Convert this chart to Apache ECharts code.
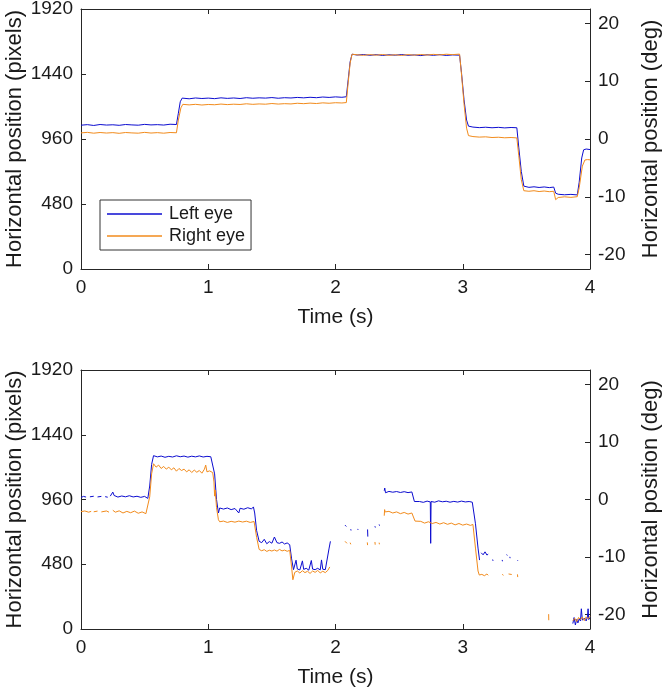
<!DOCTYPE html>
<html>
<head>
<meta charset="utf-8">
<script src="https://cdn.jsdelivr.net/npm/echarts@6/dist/echarts.min.js"></script>
<style>html,body{margin:0;padding:0;background:#fff}#c{width:666px;height:696px}</style>
</head>
<body>
<div id="c"></div>
<script>
// ---------- data ----------
const xTicks = [0, 1, 2, 3, 4];
const pixelTicks = [0, 480, 960, 1440, 1920];
const degTicks = [-20, -10, 0, 10, 20];
const seriesNames = ['Left eye', 'Right eye'];

// Top panel: [time (s), horizontal position (pixels)]
const topLeftEye = [
[0,1062],[0.05,1066],[0.1,1060],[0.15,1067],[0.2,1063],[0.25,1065],[0.3,1061],[0.35,1067],[0.4,1064],[0.45,1062],[0.5,1068],[0.55,1064],[0.6,1066],[0.65,1063],[0.7,1069],[0.75,1067],
[0.765,1150],[0.78,1235],[0.795,1262],[0.85,1257],[0.9,1263],[0.95,1259],[1.0,1262],[1.05,1258],[1.1,1264],[1.15,1260],[1.2,1263],[1.25,1259],[1.3,1265],[1.35,1261],[1.4,1264],[1.45,1262],[1.5,1266],[1.55,1261],[1.6,1265],[1.65,1263],[1.7,1267],[1.75,1264],[1.8,1268],[1.85,1265],[1.9,1270],[1.95,1267],[2.0,1271],[2.05,1268],[2.085,1272],
[2.1,1400],[2.115,1530],[2.13,1586],[2.17,1580],[2.22,1584],[2.27,1578],[2.32,1583],[2.37,1577],[2.42,1582],[2.47,1579],[2.52,1584],[2.57,1578],[2.62,1581],[2.67,1576],[2.72,1582],[2.77,1578],[2.82,1583],[2.87,1577],[2.92,1581],[2.975,1579],
[2.99,1450],[3.01,1250],[3.03,1100],[3.045,1055],[3.08,1048],[3.13,1044],[3.18,1047],[3.23,1043],[3.28,1046],[3.33,1042],[3.38,1045],[3.425,1043],
[3.44,900],[3.46,720],[3.48,612],[3.52,603],[3.56,607],[3.6,602],[3.64,606],[3.68,601],[3.715,605],
[3.73,560],[3.75,552],[3.8,548],[3.85,551],[3.9,547],[3.915,640],[3.935,820],[3.95,880],[3.97,886],[4.0,882]
];
const topRightEye = [
[0,1005],[0.05,1009],[0.1,1003],[0.15,1008],[0.2,1004],[0.25,1007],[0.3,1002],[0.35,1008],[0.4,1005],[0.45,1003],[0.5,1009],[0.55,1004],[0.6,1007],[0.65,1003],[0.7,1008],[0.75,1006],
[0.765,1100],[0.785,1190],[0.8,1216],[0.85,1212],[0.9,1216],[0.95,1211],[1.0,1215],[1.05,1213],[1.1,1218],[1.15,1214],[1.2,1217],[1.25,1215],[1.3,1220],[1.35,1216],[1.4,1219],[1.45,1217],[1.5,1222],[1.55,1218],[1.6,1221],[1.65,1219],[1.7,1224],[1.75,1221],[1.8,1225],[1.85,1222],[1.9,1227],[1.95,1224],[2.0,1228],[2.05,1226],[2.085,1229],
[2.1,1380],[2.115,1520],[2.13,1586],[2.17,1582],[2.22,1578],[2.27,1583],[2.32,1579],[2.37,1584],[2.42,1578],[2.47,1582],[2.52,1577],[2.57,1583],[2.62,1579],[2.67,1584],[2.72,1580],[2.77,1585],[2.82,1581],[2.87,1586],[2.92,1583],[2.975,1587],
[2.99,1440],[3.01,1220],[3.03,1040],[3.045,985],[3.08,978],[3.13,974],[3.18,976],[3.23,971],[3.28,973],[3.33,969],[3.38,971],[3.425,968],
[3.44,840],[3.46,660],[3.48,578],[3.52,574],[3.56,578],[3.6,572],[3.64,576],[3.68,571],[3.715,574],
[3.73,512],[3.75,528],[3.8,533],[3.85,529],[3.9,534],[3.915,600],[3.94,760],[3.96,805],[3.98,808],[4.0,806]
];

// Bottom panel (null = lost samples)
const bottomLeftEye = [
[0,975],[0.02,983],[0.04,978],[0.05,null],
[0.07,980],[0.1,984],[0.11,null],
[0.13,979],[0.16,983],[0.165,null],
[0.19,981],[0.21,977],[0.215,null],
[0.23,985],[0.25,1015],[0.26,990],[0.29,978],[0.32,986],[0.35,980],[0.38,988],[0.41,979],[0.44,984],[0.47,976],[0.5,983],[0.525,968],
[0.54,1060],[0.555,1220],[0.57,1285],[0.6,1276],[0.63,1282],[0.66,1273],[0.69,1280],[0.72,1275],[0.75,1284],[0.78,1277],[0.81,1282],[0.84,1274],[0.87,1281],[0.9,1276],[0.93,1283],[0.96,1275],[0.99,1280],[1.02,1277],[1.035,1279],
[1.05,1150],[1.065,960],[1.08,860],[1.09,897],[1.12,889],[1.15,897],[1.18,885],[1.21,893],[1.24,860],[1.25,895],[1.28,888],[1.31,899],[1.34,890],[1.355,905],[1.365,860],
[1.38,730],[1.40,650],[1.42,640],[1.44,665],[1.46,632],[1.48,648],[1.5,636],[1.52,682],[1.54,640],[1.56,635],[1.58,645],[1.6,630],[1.62,638],[1.64,625],
[1.655,520],[1.67,440],[1.68,452],[1.69,510],[1.70,445],[1.72,438],[1.74,505],[1.75,442],[1.77,450],[1.79,436],[1.81,508],[1.82,444],[1.84,440],[1.86,450],[1.88,438],[1.89,512],[1.90,443],[1.92,440],[1.935,452],[1.95,600],[1.96,650],[1.962,null],
[2.075,770],[2.085,760],[2.09,null],
[2.12,740],[2.122,730],[2.125,null],
[2.175,742],[2.177,735],[2.18,null],
[2.252,738],[2.254,685],[2.256,null],
[2.31,762],[2.313,752],[2.315,null],
[2.343,775],[2.346,766],[2.35,null],
[2.383,1025],[2.387,1045],[2.393,1010],[2.42,1020],[2.45,1014],[2.48,1019],[2.51,1012],[2.54,1018],[2.57,1011],[2.60,1016],[2.607,1010],
[2.62,945],[2.635,935],[2.66,945],[2.69,939],[2.72,948],[2.745,942],[2.748,635],[2.751,945],[2.78,940],[2.81,950],[2.84,943],[2.87,947],[2.9,940],[2.93,946],[2.96,941],[2.99,948],[3.02,942],[3.05,945],[3.075,940],
[3.1,780],[3.12,600],[3.132,511],[3.135,null],
[3.145,565],[3.16,550],[3.175,572],[3.19,548],[3.2,555],[3.205,null],
[3.235,515],[3.238,505],[3.24,null],
[3.31,512],[3.312,502],[3.315,null],
[3.345,552],[3.35,545],[3.355,null],
[3.37,535],[3.372,525],[3.375,null],
[3.43,510],[3.434,505],[3.44,null],
[3.865,40],[3.875,85],[3.885,30],[3.895,70],[3.905,45],[3.915,75],[3.925,60],[3.932,150],[3.94,65],[3.955,80],[3.97,60],[3.98,90],[3.985,150],[3.99,70],[4.0,85]
];
const bottomRightEye = [
[0,870],[0.03,875],[0.06,866],[0.08,872],[0.085,null],
[0.1,869],[0.13,874],[0.14,null],
[0.16,868],[0.2,875],[0.22,866],[0.225,null],
[0.25,880],[0.27,866],[0.3,876],[0.33,860],[0.36,872],[0.39,862],[0.42,874],[0.45,858],[0.48,868],[0.51,855],[0.525,865],
[0.54,980],[0.555,1150],[0.57,1225],[0.59,1200],[0.61,1215],[0.63,1190],[0.65,1205],[0.67,1185],[0.69,1200],[0.71,1180],[0.73,1195],[0.75,1170],[0.77,1190],[0.79,1175],[0.81,1185],[0.83,1165],[0.85,1180],[0.87,1160],[0.89,1178],[0.91,1162],[0.93,1175],[0.95,1155],[0.97,1185],[0.98,1215],[0.99,1165],[1.01,1172],[1.035,1160],
[1.045,1090],[1.05,985],[1.055,1030],[1.065,900],[1.08,810],[1.09,795],[1.12,800],[1.15,790],[1.18,798],[1.21,792],[1.24,800],[1.27,793],[1.3,799],[1.33,790],[1.36,797],
[1.38,680],[1.40,590],[1.42,580],[1.44,588],[1.46,575],[1.48,584],[1.5,578],[1.52,586],[1.54,577],[1.56,590],[1.58,579],[1.6,585],[1.62,576],[1.64,583],
[1.655,460],[1.665,365],[1.68,420],[1.70,430],[1.72,415],[1.74,432],[1.76,418],[1.78,428],[1.8,412],[1.82,430],[1.84,420],[1.86,434],[1.88,416],[1.9,428],[1.92,418],[1.94,435],[1.955,460],[1.957,null],
[2.075,650],[2.09,635],[2.1,null],
[2.115,640],[2.12,628],[2.125,null],
[2.25,642],[2.252,622],[2.255,null],
[2.31,645],[2.312,625],[2.315,null],
[2.343,640],[2.345,628],[2.348,null],
[2.383,840],[2.386,885],[2.39,868],[2.42,872],[2.45,860],[2.48,868],[2.51,855],[2.54,864],[2.57,852],[2.6,860],[2.607,848],
[2.625,800],[2.64,790],[2.67,798],[2.7,785],[2.73,795],[2.76,782],[2.79,790],[2.82,778],[2.85,788],[2.88,776],[2.91,785],[2.94,772],[2.97,782],[3.0,770],[3.03,778],[3.06,768],[3.08,775],
[3.1,600],[3.12,430],[3.13,400],[3.15,405],[3.17,395],[3.19,408],[3.2,398],[3.205,null],
[3.31,405],[3.32,398],[3.33,null],
[3.36,408],[3.37,400],[3.385,404],[3.39,null],
[3.43,405],[3.432,385],[3.435,null],
[3.675,110],[3.676,65],[3.678,null],
[3.865,60],[3.88,80],[3.895,55],[3.91,85],[3.925,70],[3.94,88],[3.955,62],[3.97,90],[3.985,75],[4.0,95]
];

// ---------- chart ----------
const FONT = 'Liberation Sans, Arial, Helvetica, sans-serif';
const TXT = '#1a1a1a';
const AX = '#262626';
const BLUE = '#0c0cd0';
const ORANGE = '#f28b1c';
const PX_PER_DEG = 960 / 22.5;
const DEG_MAX = 1920 / 2 / PX_PER_DEG;

const grids = [
  {left: 81, top: 9, width: 509, height: 260, outerBoundsMode: 'none', containLabel: false},
  {left: 81, top: 370, width: 509, height: 259, outerBoundsMode: 'none', containLabel: false}
];

function xAxes(g) {
  return [
    {gridIndex: g, type: 'value', position: 'bottom', min: xTicks[0], max: xTicks[xTicks.length-1], interval: 1,
     name: 'Time (s)', nameLocation: 'middle', nameGap: 38, nameMoveOverlap: false,
     nameTextStyle: {fontFamily: FONT, fontSize: 21, color: TXT},
     axisLine: {show: true, onZero: false, lineStyle: {color: AX, width: 1}},
     axisTick: {show: true, inside: true, length: 5, lineStyle: {color: AX}},
     axisLabel: {fontFamily: FONT, fontSize: 19, color: TXT, margin: 9, formatter: v => String(v)},
     splitLine: {show: false}},
    {gridIndex: g, type: 'value', position: 'top', min: xTicks[0], max: xTicks[xTicks.length-1], interval: 1,
     axisLine: {show: true, onZero: false, lineStyle: {color: AX, width: 1}},
     axisTick: {show: true, inside: true, length: 5, lineStyle: {color: AX}},
     axisLabel: {show: false}, splitLine: {show: false}}
  ];
}
function yAxes(g) {
  return [
    {gridIndex: g, type: 'value', position: 'left', min: pixelTicks[0], max: pixelTicks[pixelTicks.length-1], interval: 480,
     name: 'Horizontal position (pixels)', nameLocation: 'middle', nameGap: 55, nameRotate: 90, nameMoveOverlap: false,
     nameTextStyle: {fontFamily: FONT, fontSize: 22, color: TXT},
     axisLine: {show: true, onZero: false, lineStyle: {color: AX, width: 1}},
     axisTick: {show: true, inside: true, length: 5, lineStyle: {color: AX}},
     axisLabel: {fontFamily: FONT, fontSize: 19, color: TXT, margin: 8, formatter: v => String(v)},
     splitLine: {show: false}},
    {gridIndex: g, type: 'value', position: 'right', min: -DEG_MAX, max: DEG_MAX,
     name: 'Horizontal position (deg)', nameLocation: 'middle', nameGap: 50, nameRotate: 90, nameMoveOverlap: false,
     nameTextStyle: {fontFamily: FONT, fontSize: 22, color: TXT},
     axisLine: {show: true, onZero: false, lineStyle: {color: AX, width: 1}},
     axisTick: {show: true, inside: true, length: 5, lineStyle: {color: AX}, customValues: degTicks},
     axisLabel: {fontFamily: FONT, fontSize: 19, color: TXT, margin: 8, customValues: degTicks, formatter: v => String(v)},
     splitLine: {show: false}}
  ];
}

const chart = echarts.init(document.getElementById('c'), null, {renderer: 'canvas'});
const lineBase = {type: 'line', symbol: 'none', showSymbol: false, connectNulls: false, animation: false,
  emphasis: {disabled: true}};
chart.setOption({
  animation: false,
  backgroundColor: '#fff',
  grid: grids,
  xAxis: [...xAxes(0), ...xAxes(1)],
  yAxis: [...yAxes(0), ...yAxes(1)],
  legend: {
    data: seriesNames, left: 100, top: 200, orient: 'vertical',
    icon: 'rect', itemWidth: 55, itemHeight: 1.5, itemGap: 4,
    padding: [5, 6, 5, 7],
    borderColor: '#333', borderWidth: 1, backgroundColor: '#fff',
    textStyle: {fontFamily: FONT, fontSize: 18, color: TXT, padding: [0, 0, 0, 2]}
  },
  series: [
    Object.assign({}, lineBase, {name: seriesNames[0], xAxisIndex: 0, yAxisIndex: 0, data: topLeftEye, color: BLUE, lineStyle: {width: 1, color: BLUE}}),
    Object.assign({}, lineBase, {name: seriesNames[1], xAxisIndex: 0, yAxisIndex: 0, data: topRightEye, color: ORANGE, lineStyle: {width: 1, color: ORANGE}}),
    Object.assign({}, lineBase, {name: seriesNames[0], xAxisIndex: 2, yAxisIndex: 2, data: bottomLeftEye, color: BLUE, lineStyle: {width: 1, color: BLUE}}),
    Object.assign({}, lineBase, {name: seriesNames[1], xAxisIndex: 2, yAxisIndex: 2, data: bottomRightEye, color: ORANGE, lineStyle: {width: 1, color: ORANGE}})
  ]
});
</script>
</body>
</html>
